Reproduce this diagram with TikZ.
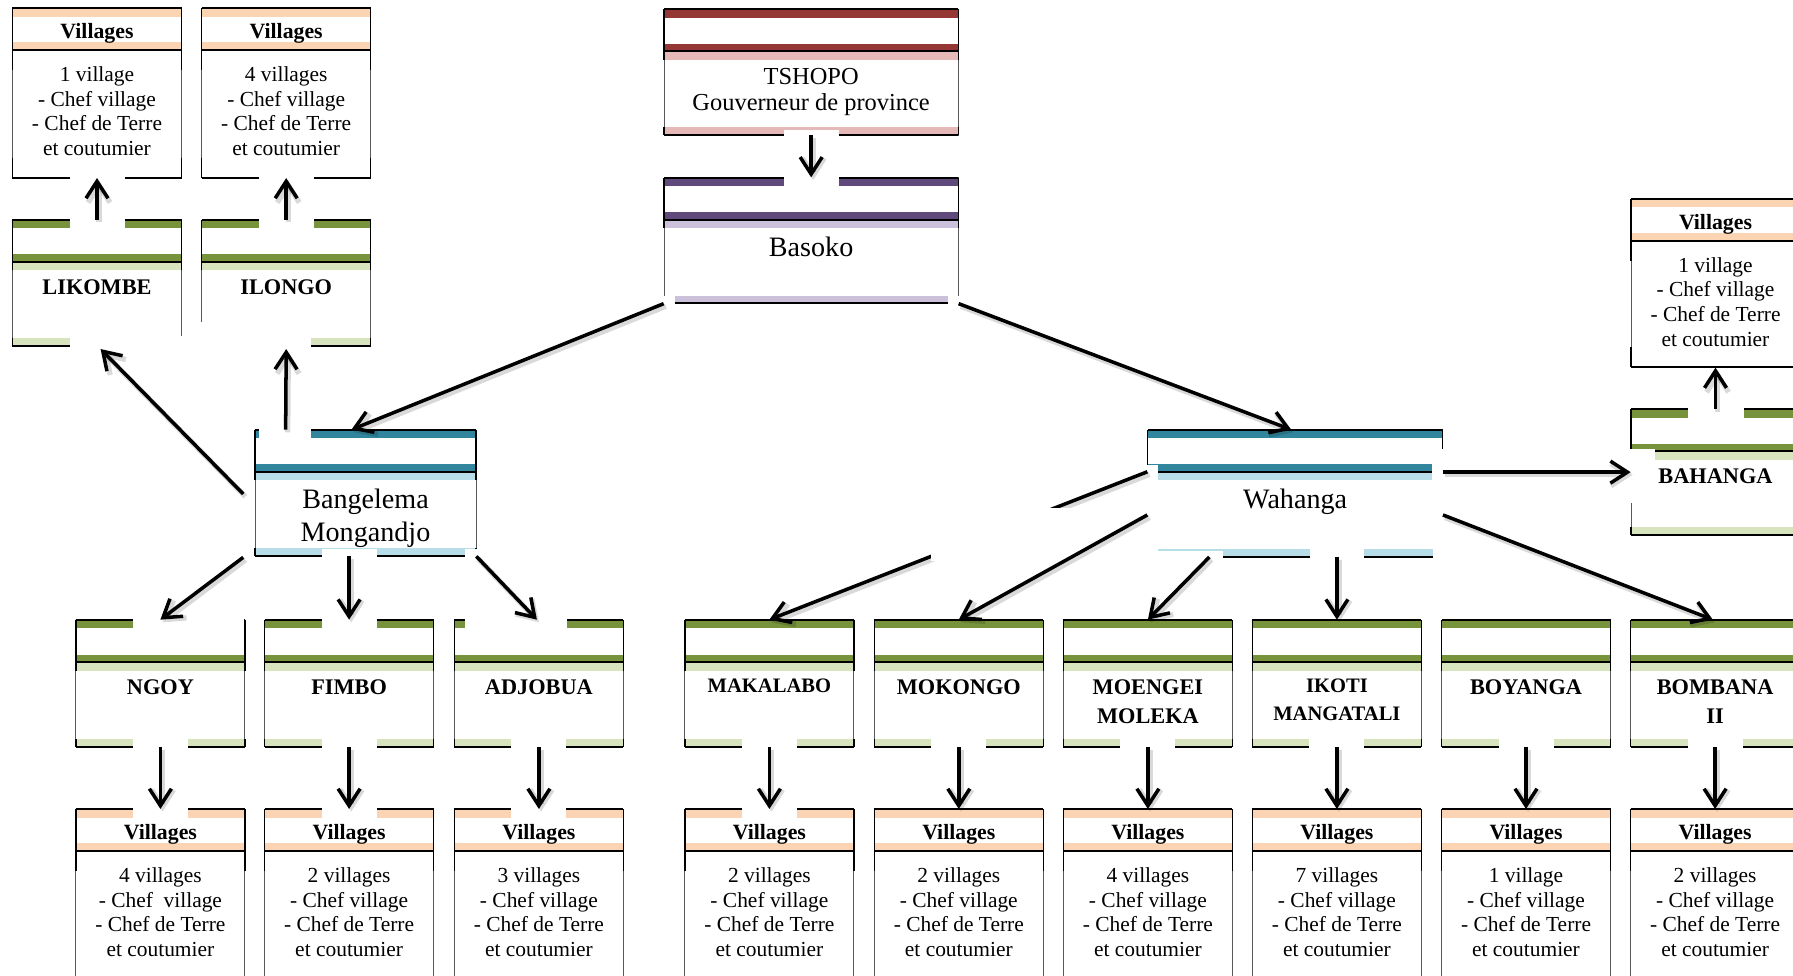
\documentclass[tikz,border=0pt]{standalone}
\usepackage{fontspec}
\setmainfont{Liberation Serif}
\usetikzlibrary{arrows.meta,calc,fit}
\definecolor{redD}{HTML}{953735}
\definecolor{redL}{HTML}{E6B9B8}
\definecolor{purD}{HTML}{604A7B}
\definecolor{purL}{HTML}{CCC1DA}
\definecolor{tealD}{HTML}{31859C}
\definecolor{tealL}{HTML}{B7DEE8}
\definecolor{grnD}{HTML}{77933C}
\definecolor{grnL}{HTML}{D7E4BD}
\definecolor{peach}{HTML}{FBD4B4}
\newcommand\fCaps{\fontsize{12.7}{16.7}\selectfont\bfseries}
\newcommand\fCapsS{\fontsize{11.7}{15.6}\selectfont\bfseries}
\newcommand\fTop{\fontsize{13.9}{14.8}\selectfont}
\newcommand\fBig{\fontsize{16}{18.4}\selectfont}
\newcommand\fVil{\fontsize{12.4}{14}\selectfont\bfseries}
\newcommand\fBody{\fontsize{12.2}{14}\selectfont}
\tikzset{
  thinb/.style={draw=black!65, line width=0.5pt},
  thickb/.style={draw=black, line width=1.1pt},
  patch/.style={fill=white},
  arr/.style={line width=2pt, -{Straight Barb[length=3.4mm,width=4.4mm]},
    preaction={draw=black, opacity=0.15, line width=3pt,
      transform canvas={shift={(1.2pt,-1.5pt)}}}},
}
% unit box: name, x1, x2, y0, y1, dark, light, font, text
\newcommand\unitbox[9]{%
  \node[fit={(#2,#4) (#3,#5)}, inner sep=0pt] (#1) {};
  \fill[white] (#2,#4) rectangle (#3,#5);
  \fill[#6] (#2,#4) rectangle (#3,{#4+8.3});
  \fill[#6] (#2,{#4+34.5}) rectangle (#3,{#4+42});
  \fill[#7] (#2,{#4+42}) rectangle (#3,{#4+50.5});
  \fill[#7] (#2,{#5-7.5}) rectangle (#3,#5);
  \draw[thinb] (#2,#4) rectangle (#3,#5);
  \draw[black, line width=0.7pt] (#2,#4) -- (#2,{#4+50.5}) (#3,#4) -- (#3,{#4+50.5})
        (#2,{#5-7.5}) -- (#2,#5) (#3,{#5-7.5}) -- (#3,#5);
  \draw[thickb] (#2,#4) -- (#3,#4);
  \draw[thickb] (#2,{#4+42}) -- (#3,{#4+42});
  \draw[thickb] (#2,#5) -- (#3,#5);
  \node[anchor=north, inner sep=0pt, align=center, font=#8] at ({(#2+#3)/2},{#4+59}) {#9};
}
% villages box: name, x1, x2, y0, y1, text
\newcommand\vilbox[6]{%
  \node[fit={(#2,#4) (#3,#5)}, inner sep=0pt] (#1) {};
  \fill[white] (#2,#4) rectangle (#3,#5);
  \fill[peach] (#2,#4) rectangle (#3,{#4+8.3});
  \fill[peach] (#2,{#4+34}) rectangle (#3,{#4+41.5});
  \draw[thinb] (#2,#4) rectangle (#3,#5);
  \draw[black, line width=0.7pt] (#2,#4) -- (#2,{#4+62}) (#3,#4) -- (#3,{#4+62})
        (#2,{#5-20}) -- (#2,#5) (#3,{#5-20}) -- (#3,#5);
  \draw[thickb] (#2,#4) -- (#3,#4);
  \draw[thickb] (#2,{#4+42}) -- (#3,{#4+42});
  \draw[thickb] (#2,#5) -- (#3,#5);
  \node[anchor=north, inner sep=0pt, font=\fVil] at ({(#2+#3)/2},{#4+15}) {Villages};
  \node[anchor=north, inner sep=0pt, align=center, font=\fBody] at ({(#2+#3)/2},{#4+58}) {#6};
}
\begin{document}
\begin{tikzpicture}[x=0.02cm, y=-0.02cm]
\useasboundingbox (0,0) rectangle (1793,976);
\clip (0,0) rectangle (1793,976);
\fill[white] (0,0) rectangle (1793,976);

% ---- top left
\vilbox{vlik}{12.3}{181.7}{8.3}{177.7}{1 village\\- Chef village\\- Chef de Terre\\et coutumier}
\vilbox{vilo}{201.7}{370.7}{8.3}{177.7}{4 villages\\- Chef village\\- Chef de Terre\\et coutumier}
\unitbox{likombe}{12.3}{181.7}{220}{345.7}{grnD}{grnL}{\fCaps}{LIKOMBE}
\unitbox{ilongo}{201.7}{370.7}{220}{345.7}{grnD}{grnL}{\fCaps}{ILONGO}

% ---- top centre
\unitbox{tshopo}{664}{958.3}{9.3}{135}{redD}{redL}{\fTop}{TSHOPO\\Gouverneur de province}
\unitbox{basoko}{664}{958.3}{177.7}{303.3}{purD}{purL}{\fBig}{Basoko}

% ---- second level
\unitbox{bang}{255}{476}{430}{556}{tealD}{tealL}{\fBig}{Bangelema\\Mongandjo}
\unitbox{wah}{1147.7}{1442.6}{430}{556.7}{tealD}{tealL}{\fBig}{Wahanga}

% ---- right
\vilbox{vbah}{1631}{1800}{199}{367.3}{1 village\\- Chef village\\- Chef de Terre\\et coutumier}
\unitbox{bahanga}{1631}{1800}{409.3}{535}{grnD}{grnL}{\fCaps}{BAHANGA}

% ---- middle row
\unitbox{ngoy}{75.9}{244.9}{620}{746.7}{grnD}{grnL}{\fCaps}{NGOY}
\unitbox{fimbo}{264.5}{433.7}{620}{746.7}{grnD}{grnL}{\fCaps}{FIMBO}
\unitbox{adjobua}{454.4}{623.4}{620}{746.7}{grnD}{grnL}{\fCaps}{ADJOBUA}
\unitbox{makalabo}{684.9}{853.9}{620}{746.7}{grnD}{grnL}{\fCapsS}{MAKALABO}
\unitbox{mokongo}{874.3}{1043.3}{620}{746.7}{grnD}{grnL}{\fCaps}{MOKONGO}
\unitbox{moengei}{1063.4}{1232.4}{620}{746.7}{grnD}{grnL}{\fCaps}{MOENGEI\\MOLEKA}
\unitbox{ikoti}{1252.4}{1421.4}{620}{746.7}{grnD}{grnL}{\fCapsS}{IKOTI\\MANGATALI}
\unitbox{boyanga}{1441.5}{1610.5}{620}{746.7}{grnD}{grnL}{\fCaps}{BOYANGA}
\unitbox{bombana}{1630.6}{1799.6}{620}{746.7}{grnD}{grnL}{\fCaps}{BOMBANA\\II}

% ---- bottom row
\vilbox{vngoy}{75.9}{244.9}{809.3}{1000}{4 villages\\- Chef~ village\\- Chef de Terre\\et coutumier}
\vilbox{vfimbo}{264.5}{433.7}{809.3}{1000}{2 villages\\- Chef village\\- Chef de Terre\\et coutumier}
\vilbox{vadjobua}{454.4}{623.4}{809.3}{1000}{3 villages\\- Chef village\\- Chef de Terre\\et coutumier}
\vilbox{vmakalabo}{684.9}{853.9}{809.3}{1000}{2 villages\\- Chef village\\- Chef de Terre\\et coutumier}
\vilbox{vmokongo}{874.3}{1043.3}{809.3}{1000}{2 villages\\- Chef village\\- Chef de Terre\\et coutumier}
\vilbox{vmoengei}{1063.4}{1232.4}{809.3}{1000}{4 villages\\- Chef village\\- Chef de Terre\\et coutumier}
\vilbox{vikoti}{1252.4}{1421.4}{809.3}{1000}{7 villages\\- Chef village\\- Chef de Terre\\et coutumier}
\vilbox{vboyanga}{1441.5}{1610.5}{809.3}{1000}{1 village\\- Chef village\\- Chef de Terre\\et coutumier}
\vilbox{vbombana}{1630.6}{1799.6}{809.3}{1000}{2 villages\\- Chef village\\- Chef de Terre\\et coutumier}

% ---- white patches behind the connectors
\fill[patch] (784,130) rectangle (839,186);
\fill[patch] (70,170) rectangle (125,229);
\fill[patch] (259,170) rectangle (314,229);
\fill[patch] (70,336) rectangle (259,350);
\fill[patch] (196,322) rectangle (259,350);
\fill[patch] (259,336) rectangle (311,440);
\fill[patch] (132.7,549) rectangle (244,630);
\fill[patch] (321.7,549) rectangle (376.7,630);
\fill[patch] (465,549) rectangle (567,630);
\foreach \cx in {160.4,349.1,538.9,769.4}
  \fill[patch] ({\cx-27.5},739) rectangle ({\cx+27.5},818.3);
\foreach \cx in {958.8,1147.9,1336.9,1526,1715.1}
  \fill[patch] ({\cx-27.5},739) rectangle ({\cx+27.5},748);
\fill[patch] (1140,465) rectangle (1157.8,558);
\fill[patch] (1432.5,465) rectangle (1450,558);
\fill[patch] (1157.8,551) rectangle (1222.6,558);
\fill[patch] (1309.8,549) rectangle (1364,558);
\fill[patch] (1432,449) rectangle (1655,503);
\fill[patch] (1688,370) rectangle (1743.5,418);
\fill[patch] (655,296) rectangle (675,310);
\fill[patch] (948,296) rectangle (966,310);

% ---- connectors
\draw[arr] (tshopo.south) -- (basoko.north);
\draw[arr] (basoko.south west) -- ($(bang.north)+(-14,0)$);
\draw[arr] (basoko.south east) -- ($(wah.north)+(-4,0)$);
\draw[arr] (likombe.north) -- (vlik.south);
\draw[arr] (ilongo.north) -- (vilo.south);
\draw[arr] ($(bang.north west)+(31,0)$) -- ($(ilongo.south)+(0,3)$);
\draw[arr] ($(bang.west)+(-11.4,1)$) -- ($(likombe.south)+(3.6,3)$);
\draw[arr] ($(bang.south west)+(-11.4,1)$) -- (ngoy.north);
\draw[arr] (fimbo.north |- bang.south) -- (fimbo.north);
\draw[arr] (bang.south east) -- ($(adjobua.north)+(-2,0)$);
\draw[arr] ($(wah.west)+(0,-21.6)$) -- (makalabo.north);
% white patch of the next connector, which hides part of the one before
\fill[patch] (931,507.7) rectangle (1147,561);
\draw[arr] ($(wah.west)+(0,21.6)$) -- (mokongo.north);
\draw[arr] ($(wah.south west)+(62,0)$) -- (moengei.north);
\draw[arr] (ikoti.north |- wah.south) -- (ikoti.north);
\draw[arr] ($(wah.east)+(0,21.6)$) -- ($(bombana.north)+(-2.4,0)$);
\draw[arr] (wah.east |- bahanga.west) -- (bahanga.west);
\draw[arr] (bahanga.north) -- (vbah.south);
\foreach \s/\t in {ngoy/vngoy,fimbo/vfimbo,adjobua/vadjobua,makalabo/vmakalabo,mokongo/vmokongo,moengei/vmoengei,ikoti/vikoti,boyanga/vboyanga,bombana/vbombana}
  \draw[arr] (\s.south) -- (\t.north);
\end{tikzpicture}
\end{document}
